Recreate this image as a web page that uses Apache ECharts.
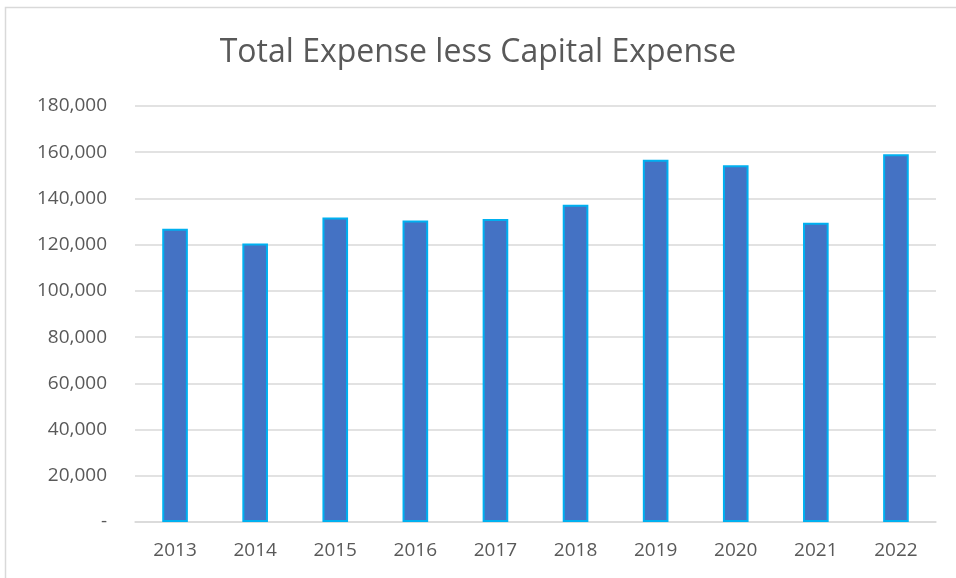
<!DOCTYPE html>
<html>
<head>
<meta charset="utf-8">
<script src="https://cdn.jsdelivr.net/npm/echarts@6/dist/echarts.min.js"></script>
<style>
html,body{margin:0;padding:0;background:#fff;}
#chart{width:956px;height:578px;}
</style>
</head>
<body>
<div id="chart"></div>
<script>
const titleText = "Total Expense less Capital Expense";
const categories = ["2013","2014","2015","2016","2017","2018","2019","2020","2021","2022"];
const values = [126900, 120500, 131800, 130500, 131100, 137300, 156700, 154400, 129500, 159100];
const yMin = 0, yMax = 180000, yInterval = 20000;

const chart = echarts.init(document.getElementById('chart'), null, {renderer:'canvas'});
const font = "'Open Sans', 'Liberation Sans', sans-serif";
chart.setOption({
  backgroundColor: '#ffffff',
  animation: false,
  graphic: [{
    type: 'rect',
    shape: {x: 5.5, y: 7.5, width: 1000, height: 700},
    style: {fill: 'none', stroke: '#d9d9d9', lineWidth: 1.5},
    silent: true
  }],
  title: {
    text: titleText,
    left: 'center',
    top: 32,
    textStyle: {fontFamily: font, fontSize: 32, fontWeight: 'normal', color: '#595959'}
  },
  grid: {left: 135, right: 20, top: 106, bottom: 56, containLabel: false},
  xAxis: {
    type: 'category',
    data: categories,
    axisLine: {show: true, lineStyle: {color: '#d9d9d9', width: 1.5}},
    axisTick: {show: false},
    axisLabel: {color: '#595959', fontFamily: font, fontSize: 19, margin: 19}
  },
  yAxis: {
    type: 'value',
    min: yMin, max: yMax, interval: yInterval,
    axisLine: {show: false},
    axisTick: {show: false},
    splitLine: {lineStyle: {color: '#d9d9d9', width: 1.5}},
    axisLabel: {
      color: '#595959', fontFamily: font, fontSize: 19, margin: 28,
      formatter: v => v === 0 ? '-' : v.toLocaleString('en-US')
    }
  },
  series: [{
    type: 'bar',
    data: values,
    barWidth: '32%',
    itemStyle: {color: '#4472C4', borderColor: '#00B0F0', borderWidth: 2}
  }]
});
</script>
</body>
</html>
